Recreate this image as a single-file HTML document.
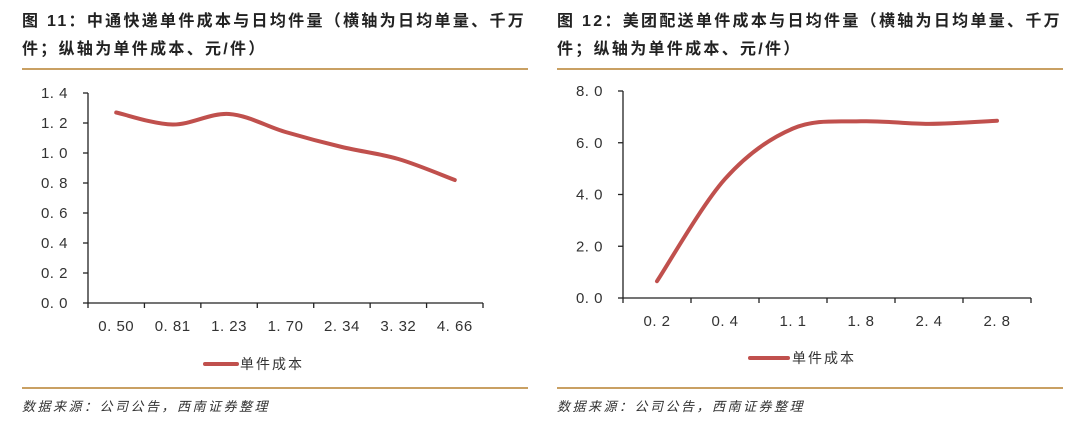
<!DOCTYPE html>
<html><head><meta charset="utf-8"><style>
body{margin:0;background:#fff;width:1080px;height:424px;overflow:hidden}
svg text{font-family:"Liberation Sans","Noto Sans CJK SC",sans-serif}
</style></head><body>
<svg id="s" width="1080" height="424" xmlns="http://www.w3.org/2000/svg">
<g font-size="16" font-weight="bold" fill="#222" letter-spacing="2.3">
<text x="22" y="26">图 11：中通快递单件成本与日均件量（横轴为日均单量、千万</text>
<text x="22" y="54">件；纵轴为单件成本、元/件）</text>
<text x="557" y="26">图 12：美团配送单件成本与日均件量（横轴为日均单量、千万</text>
<text x="557" y="54">件；纵轴为单件成本、元/件）</text>
</g>
<g stroke="#c9a063" stroke-width="2">
<line x1="22" y1="69" x2="528" y2="69"/><line x1="557" y1="69" x2="1063" y2="69"/>
<line x1="22" y1="388" x2="528" y2="388"/><line x1="557" y1="388" x2="1063" y2="388"/>
</g>
<g font-size="13" font-style="italic" fill="#333" letter-spacing="2.5">
<text x="22" y="411">数据来源：公司公告，西南证券整理</text>
<text x="557" y="411">数据来源：公司公告，西南证券整理</text>
</g>
<g id="ax" stroke="#222" stroke-width="1.3" fill="none"></g>
<g id="tx" font-size="15" fill="#333" letter-spacing="0.5"></g>
<g stroke="#c0504d" stroke-width="4" fill="none" stroke-linecap="round">
<path id="p1"/><path id="p2"/>
<line x1="205" y1="364" x2="237" y2="364"/><line x1="750" y1="358" x2="788" y2="358"/>
</g>
<g font-size="14" fill="#333" letter-spacing="2">
<text x="240" y="369">单件成本</text><text x="792" y="363">单件成本</text>
</g>
</svg>
<script>
var ax=document.getElementById('ax'),tx=document.getElementById('tx'),NS='http://www.w3.org/2000/svg';
function el(p,t,a,c){var e=document.createElementNS(NS,t);for(var k in a)e.setAttribute(k,a[k]);if(c!=null)e.textContent=c;p.appendChild(e);}
function chart(x0,x1,yTop,yBot,ymax,step,dec,cats,vals,pid){
 el(ax,'line',{x1:x0,y1:yTop,x2:x0,y2:yBot});el(ax,'line',{x1:x0,y1:yBot,x2:x1,y2:yBot});
 var n=Math.round(ymax/step);
 for(var i=0;i<=n;i++){var y=yBot-(yBot-yTop)*i/n;el(ax,'line',{x1:x0-5,y1:y,x2:x0,y2:y});
  el(tx,'text',{x:x0-20,y:y+5,'text-anchor':'end'},(i*step).toFixed(dec).replace('.','. '));}
 var w=(x1-x0)/cats.length,pts=[];
 for(var j=0;j<=cats.length;j++)el(ax,'line',{x1:x0+w*j,y1:yBot,x2:x0+w*j,y2:yBot+5});
 cats.forEach(function(c,j){var cx=x0+w*(j+.5);el(tx,'text',{x:cx,y:yBot+28,'text-anchor':'middle'},c.replace('.','. '));
  pts.push([cx,yBot-(yBot-yTop)*vals[j]/ymax]);});
 var d='M'+pts[0];
 for(var k=0;k<pts.length-1;k++){var p0=pts[k-1]||pts[k],p1=pts[k],p2=pts[k+1],p3=pts[k+2]||p2;
  d+=' C'+(p1[0]+(p2[0]-p0[0])/6)+','+(p1[1]+(p2[1]-p0[1])/6)+' '+(p2[0]-(p3[0]-p1[0])/6)+','+(p2[1]-(p3[1]-p1[1])/6)+' '+p2;}
 document.getElementById(pid).setAttribute('d',d);
}
chart(88,483,93,303,1.4,0.2,1,['0.50','0.81','1.23','1.70','2.34','3.32','4.66'],[1.27,1.19,1.26,1.14,1.04,0.96,0.82],'p1');
chart(623,1031,91,298,8,2,1,['0.2','0.4','1.1','1.8','2.4','2.8'],[0.65,4.6,6.55,6.83,6.73,6.85],'p2');
</script>
</body></html>
